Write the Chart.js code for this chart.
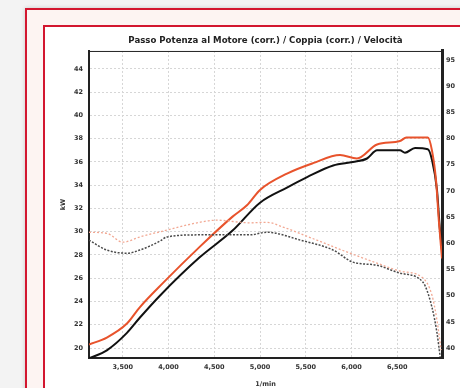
<!DOCTYPE html>
<html lang="it">
<head>
  <meta charset="UTF-8">
  <title>Potenza / Coppia</title>
  <script src="https://cdn.jsdelivr.net/npm/chart.js"></script>
  <style>
    html, body { margin: 0; padding: 0; }
    body { width: 460px; height: 388px; background: #f3f3f3; overflow: hidden; position: relative; }
    .outer {
      position: absolute; left: 25px; top: 8px; width: 460px; height: 400px;
      border: 2px solid #d3162f; background: #fdf4f2;
      box-shadow: 0 0 4px rgba(0,0,0,0.18);
    }
    .inner {
      position: absolute; left: 43px; top: 25px; width: 440px; height: 400px;
      border: 2px solid #d3162f; background: #fff;
    }
    .wrap { position: absolute; left: 45px; top: 27px; width: 415px; height: 361px; }
  </style>
</head>
<body>
  <div class="outer"></div>
  <div class="inner"></div>
  <div class="wrap"><canvas id="dyno"></canvas></div>

  <script>
    // tick values
    const rpmTicks = [3500, 4000, 4500, 5000, 5500, 6000, 6500];
    const kwTicks  = [20, 22, 24, 26, 28, 30, 32, 34, 36, 38, 40, 42, 44];
    const nmTicks  = [40, 45, 50, 55, 60, 65, 70, 75, 80, 85, 90, 95];

    // power (kW), red = corrected run, black = second run
    const rpmPowerRed = [3130, 3325, 3545, 3685, 3940, 4340, 4700, 4860, 5000, 5295, 5580, 5875, 6060, 6280, 6530, 6600, 6700, 6835, 6880, 6925, 6955, 6990];
    const powerRed    = [20.3, 20.9, 22.1, 23.5, 25.6, 28.7, 31.3, 32.3, 33.6, 35.0, 35.9, 36.6, 36.3, 37.5, 37.8, 38.1, 38.1, 38.1, 37.0, 34.4, 31.0, 27.7];
    const rpmPowerBlk = [3130, 3325, 3545, 3685, 3905, 4340, 4700, 5000, 5295, 5515, 5800, 6015, 6170, 6280, 6530, 6585, 6695, 6835, 6880, 6935, 6965, 6990];
    const powerBlk    = [19.1, 19.8, 21.3, 22.6, 24.5, 27.8, 30.1, 32.5, 33.8, 34.7, 35.7, 36.0, 36.3, 37.0, 37.0, 36.8, 37.2, 37.1, 36.2, 33.6, 30.4, 28.4];

    // torque (Nm)
    const rpmTorqueRed = [3130, 3325, 3500, 3685, 3980, 4340, 4525, 4890, 5075, 5250, 5620, 5985, 6280, 6530, 6780, 6880, 6935, 6980];
    const torqueRed    = [62.1, 61.9, 60.2, 61.2, 62.5, 64.0, 64.4, 63.9, 64.0, 63.1, 60.6, 58.1, 56.2, 54.7, 53.4, 50.1, 45.3, 39.6];
    const rpmTorqueBlk = [3130, 3325, 3545, 3685, 3905, 3980, 4340, 4700, 4890, 5075, 5440, 5800, 6015, 6280, 6530, 6780, 6880, 6935, 6970];
    const torqueBlk    = [60.6, 58.7, 58.1, 58.7, 60.4, 61.2, 61.6, 61.6, 61.6, 62.1, 60.6, 58.7, 56.4, 55.8, 54.3, 52.6, 47.8, 42.9, 38.3];

    const pts = (xs, ys) => xs.map((x, i) => ({ x: x, y: ys[i] }));

    const tickFont = { family: 'DejaVu Sans', size: 6.5, weight: 'bold' };

    // thin top edge of the plot frame
    const frameTop = {
      id: 'frameTop',
      beforeDatasetsDraw(chart) {
        const { ctx, chartArea: a } = chart;
        ctx.save();
        ctx.strokeStyle = '#222';
        ctx.lineWidth = 1;
        ctx.beginPath();
        ctx.moveTo(a.left, a.top + 0.5);
        ctx.lineTo(a.right, a.top + 0.5);
        ctx.stroke();
        ctx.restore();
      }
    };

    new Chart(document.getElementById('dyno'), {
      type: 'line',
      data: {
        datasets: [
          { label: 'Coppia (corr.)', data: pts(rpmTorqueRed, torqueRed), yAxisID: 'yNm',
            borderColor: '#f2a893', borderWidth: 1.3, borderDash: [2, 2] },
          { label: 'Coppia', data: pts(rpmTorqueBlk, torqueBlk), yAxisID: 'yNm',
            borderColor: '#4a4a4a', borderWidth: 1.5, borderDash: [2, 1.5] },
          { label: 'Potenza (corr.)', data: pts(rpmPowerRed, powerRed), yAxisID: 'yKw',
            borderColor: '#e8532c', borderWidth: 2 },
          { label: 'Potenza', data: pts(rpmPowerBlk, powerBlk), yAxisID: 'yKw',
            borderColor: '#111', borderWidth: 2 }
        ]
      },
      options: {
        responsive: true,
        maintainAspectRatio: false,
        animation: false,
        elements: { point: { radius: 0 }, line: { cubicInterpolationMode: 'monotone' } },
        plugins: {
          legend: { display: false },
          tooltip: { enabled: false },
          title: {
            display: true,
            fullSize: false,
            text: 'Passo Potenza al Motore (corr.) / Coppia (corr.) / Velocità',
            color: '#222',
            font: { family: 'DejaVu Sans', size: 8.6, weight: 'bold', lineHeight: 1.1 },
            padding: { top: 9, bottom: 5.5 }
          }
        },
        scales: {
          x: {
            type: 'linear',
            min: 3130, max: 6990,
            afterBuildTicks: s => { s.ticks = rpmTicks.map(v => ({ value: v })); },
            afterFit: s => { s.height = 30; },
            ticks: { font: tickFont, color: '#333', padding: 5,
                     callback: v => v.toLocaleString('en-US') },
            grid: { color: '#d6d6d6', drawTicks: false, lineWidth: 1 },
            border: { color: '#222', width: 2, dash: [2, 2] },
            title: { display: true, text: '1/min', color: '#333',
                     font: { family: 'DejaVu Sans', size: 6.5, weight: 'bold' },
                     padding: { top: 3, bottom: 0 } }
          },
          yKw: {
            position: 'left',
            min: 19.14, max: 45.55,
            afterBuildTicks: s => { s.ticks = kwTicks.map(v => ({ value: v })); },
            afterFit: s => { s.width = 44; },
            ticks: { font: tickFont, color: '#333', padding: 6 },
            grid: { color: '#d6d6d6', drawTicks: false },
            border: { color: '#222', width: 2, dash: [2, 2] },
            title: { display: true, text: 'kW', color: '#333',
                     font: { family: 'DejaVu Sans', size: 6.5, weight: 'bold' },
                     padding: { top: 14, bottom: 0 } }
          },
          yNm: {
            position: 'right',
            min: 38.1, max: 96.7,
            afterBuildTicks: s => { s.ticks = nmTicks.map(v => ({ value: v })); },
            afterFit: s => { s.width = 18; },
            ticks: { font: tickFont, color: '#333', padding: 4 },
            grid: { drawOnChartArea: false, drawTicks: false },
            border: { color: '#222', width: 3 }
          }
        }
      },
      plugins: [frameTop]
    });
  </script>
</body>
</html>
